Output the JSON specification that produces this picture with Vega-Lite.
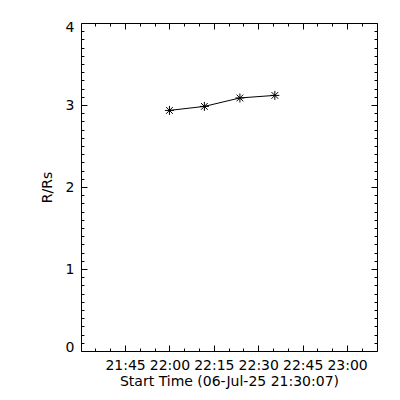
{
  "$schema": "https://vega.github.io/schema/vega-lite/v6.json",
  "width": 296,
  "height": 328,
  "autosize": "none",
  "padding": {"left": 81, "top": 23, "right": 23, "bottom": 49},
  "background": "white",
  "data": {
    "values": [
      {"time": "2025-07-06T22:00:00", "r": 2.934},
      {"time": "2025-07-06T22:11:48", "r": 2.983},
      {"time": "2025-07-06T22:23:48", "r": 3.086},
      {"time": "2025-07-06T22:35:36", "r": 3.117}
    ]
  },
  "layer": [
    {
      "mark": {"type": "line", "color": "black", "strokeWidth": 1},
      "encoding": {
        "x": {
          "field": "time", "type": "temporal",
          "scale": {"domain": [{"year": 2025, "month": 7, "date": 6, "hours": 21, "minutes": 30, "seconds": 7}, {"year": 2025, "month": 7, "date": 6, "hours": 23, "minutes": 10, "seconds": 7}], "nice": false},
          "axis": {
            "orient": "bottom",
            "values": [
              {"year": 2025, "month": 7, "date": 6, "hours": 21, "minutes": 45},
              {"year": 2025, "month": 7, "date": 6, "hours": 22, "minutes": 0},
              {"year": 2025, "month": 7, "date": 6, "hours": 22, "minutes": 15},
              {"year": 2025, "month": 7, "date": 6, "hours": 22, "minutes": 30},
              {"year": 2025, "month": 7, "date": 6, "hours": 22, "minutes": 45},
              {"year": 2025, "month": 7, "date": 6, "hours": 23, "minutes": 0}
            ],
            "format": "%H:%M",
            "tickSize": -6,
            "labelPadding": 13,
            "labelFlush": false,
            "labelOverlap": false,
            "title": "Start Time (06-Jul-25 21:30:07)",
            "titlePadding": 2
          }
        },
        "y": {
          "field": "r", "type": "quantitative",
          "scale": {"domain": [0, 4], "nice": false},
          "axis": {
            "orient": "left",
            "values": [0, 1, 2, 3, 4],
            "tickSize": -6,
            "labelPadding": 13,
            "labelFlush": true,
            "labelFlushOffset": 3,
            "labelOverlap": false,
            "title": "R/Rs",
            "titlePadding": 11
          }
        }
      }
    },
    {
      "mark": {"type": "point", "shape": "M-1,0L1,0M0,-1L0,1M-0.75,-0.75L0.75,0.75M-0.75,0.75L0.75,-0.75", "size": 81, "filled": false, "stroke": "black", "strokeWidth": 1, "opacity": 1},
      "encoding": {
        "x": {
          "field": "time", "type": "temporal",
          "scale": {"domain": [{"year": 2025, "month": 7, "date": 6, "hours": 21, "minutes": 30, "seconds": 7}, {"year": 2025, "month": 7, "date": 6, "hours": 23, "minutes": 10, "seconds": 7}], "nice": false},
          "axis": {
            "orient": "bottom",
            "values": [
              {"year": 2025, "month": 7, "date": 6, "hours": 21, "minutes": 35},
              {"year": 2025, "month": 7, "date": 6, "hours": 21, "minutes": 40},
              {"year": 2025, "month": 7, "date": 6, "hours": 21, "minutes": 50},
              {"year": 2025, "month": 7, "date": 6, "hours": 21, "minutes": 55},
              {"year": 2025, "month": 7, "date": 6, "hours": 22, "minutes": 5},
              {"year": 2025, "month": 7, "date": 6, "hours": 22, "minutes": 10},
              {"year": 2025, "month": 7, "date": 6, "hours": 22, "minutes": 20},
              {"year": 2025, "month": 7, "date": 6, "hours": 22, "minutes": 25},
              {"year": 2025, "month": 7, "date": 6, "hours": 22, "minutes": 35},
              {"year": 2025, "month": 7, "date": 6, "hours": 22, "minutes": 40},
              {"year": 2025, "month": 7, "date": 6, "hours": 22, "minutes": 50},
              {"year": 2025, "month": 7, "date": 6, "hours": 22, "minutes": 55},
              {"year": 2025, "month": 7, "date": 6, "hours": 23, "minutes": 5}
            ],
            "tickSize": -3,
            "labels": false,
            "title": null
          }
        },
        "y": {
          "field": "r", "type": "quantitative",
          "scale": {"domain": [0, 4], "nice": false},
          "axis": {
            "orient": "left",
            "values": [0.1, 0.2, 0.3, 0.4, 0.5, 0.6, 0.7, 0.8, 0.9, 1.1, 1.2, 1.3, 1.4, 1.5, 1.6, 1.7, 1.8, 1.9, 2.1, 2.2, 2.3, 2.4, 2.5, 2.6, 2.7, 2.8, 2.9, 3.1, 3.2, 3.3, 3.4, 3.5, 3.6, 3.7, 3.8, 3.9],
            "tickSize": -3,
            "labels": false,
            "title": null
          }
        }
      }
    },
    {
      "mark": {"type": "point", "opacity": 0},
      "encoding": {
        "x": {
          "field": "time", "type": "temporal",
          "scale": {"domain": [{"year": 2025, "month": 7, "date": 6, "hours": 21, "minutes": 30, "seconds": 7}, {"year": 2025, "month": 7, "date": 6, "hours": 23, "minutes": 10, "seconds": 7}], "nice": false},
          "axis": {
            "orient": "top",
            "values": [
              {"year": 2025, "month": 7, "date": 6, "hours": 21, "minutes": 45},
              {"year": 2025, "month": 7, "date": 6, "hours": 22, "minutes": 0},
              {"year": 2025, "month": 7, "date": 6, "hours": 22, "minutes": 15},
              {"year": 2025, "month": 7, "date": 6, "hours": 22, "minutes": 30},
              {"year": 2025, "month": 7, "date": 6, "hours": 22, "minutes": 45},
              {"year": 2025, "month": 7, "date": 6, "hours": 23, "minutes": 0}
            ],
            "tickSize": -6,
            "labels": false,
            "title": null
          }
        },
        "y": {
          "field": "r", "type": "quantitative",
          "scale": {"domain": [0, 4], "nice": false},
          "axis": {
            "orient": "right",
            "values": [0, 1, 2, 3, 4],
            "tickSize": -6,
            "labels": false,
            "title": null
          }
        }
      }
    },
    {
      "mark": {"type": "point", "opacity": 0},
      "encoding": {
        "x": {
          "field": "time", "type": "temporal",
          "scale": {"domain": [{"year": 2025, "month": 7, "date": 6, "hours": 21, "minutes": 30, "seconds": 7}, {"year": 2025, "month": 7, "date": 6, "hours": 23, "minutes": 10, "seconds": 7}], "nice": false},
          "axis": {
            "orient": "top",
            "values": [
              {"year": 2025, "month": 7, "date": 6, "hours": 21, "minutes": 35},
              {"year": 2025, "month": 7, "date": 6, "hours": 21, "minutes": 40},
              {"year": 2025, "month": 7, "date": 6, "hours": 21, "minutes": 50},
              {"year": 2025, "month": 7, "date": 6, "hours": 21, "minutes": 55},
              {"year": 2025, "month": 7, "date": 6, "hours": 22, "minutes": 5},
              {"year": 2025, "month": 7, "date": 6, "hours": 22, "minutes": 10},
              {"year": 2025, "month": 7, "date": 6, "hours": 22, "minutes": 20},
              {"year": 2025, "month": 7, "date": 6, "hours": 22, "minutes": 25},
              {"year": 2025, "month": 7, "date": 6, "hours": 22, "minutes": 35},
              {"year": 2025, "month": 7, "date": 6, "hours": 22, "minutes": 40},
              {"year": 2025, "month": 7, "date": 6, "hours": 22, "minutes": 50},
              {"year": 2025, "month": 7, "date": 6, "hours": 22, "minutes": 55},
              {"year": 2025, "month": 7, "date": 6, "hours": 23, "minutes": 5}
            ],
            "tickSize": -3,
            "labels": false,
            "title": null
          }
        },
        "y": {
          "field": "r", "type": "quantitative",
          "scale": {"domain": [0, 4], "nice": false},
          "axis": {
            "orient": "right",
            "values": [0.1, 0.2, 0.3, 0.4, 0.5, 0.6, 0.7, 0.8, 0.9, 1.1, 1.2, 1.3, 1.4, 1.5, 1.6, 1.7, 1.8, 1.9, 2.1, 2.2, 2.3, 2.4, 2.5, 2.6, 2.7, 2.8, 2.9, 3.1, 3.2, 3.3, 3.4, 3.5, 3.6, 3.7, 3.8, 3.9],
            "tickSize": -3,
            "labels": false,
            "title": null
          }
        }
      }
    }
  ],
  "resolve": {"axis": {"x": "independent", "y": "independent"}},
  "config": {
    "view": {"stroke": "black", "strokeWidth": 1},
    "axis": {
      "domain": false,
      "grid": false,
      "tickColor": "black",
      "tickWidth": 1,
      "labelColor": "black",
      "labelFont": "DejaVu Sans",
      "labelFontSize": 14,
      "titleColor": "black",
      "titleFont": "DejaVu Sans",
      "titleFontSize": 14,
      "titleFontWeight": "normal"
    }
  }
}
